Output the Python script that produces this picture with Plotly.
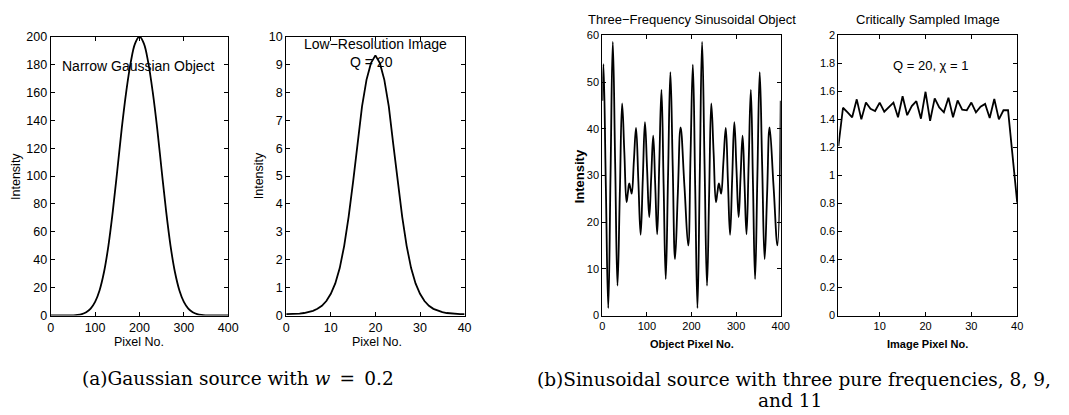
import plotly.graph_objects as go

W, H = 1069, 415

# ---------------- data ----------------
# (a) narrow Gaussian object, read every 10 object pixels
gauss_x = list(range(0, 401, 10))
gauss_y = [0, 0, 0, 0.02, 0.05, 0.15, 0.4, 1.0, 2.4, 5.0, 9.8, 18, 31, 50, 75, 104, 134, 160, 181, 195,
           200, 195, 181, 160, 134, 104, 75, 50, 31, 18, 9.8, 5.0, 2.4, 1.0, 0.4, 0.15, 0.05, 0.02, 0, 0, 0]

# (a) low-resolution image, Q = 20
lowres_x = list(range(0, 41))
lowres_y = [0.05, 0.05, 0.06, 0.07, 0.09, 0.12, 0.17, 0.24, 0.35, 0.52, 0.78, 1.15, 1.7, 2.5, 3.55,
            4.8, 6.15, 7.5, 8.45, 9.05, 9.33, 9.05, 8.45, 7.5, 6.15, 4.8, 3.55, 2.5, 1.7, 1.15, 0.78,
            0.52, 0.35, 0.24, 0.17, 0.12, 0.09, 0.07, 0.06, 0.05, 0.05]

# (b) three-frequency sinusoidal object: extrema and mid-level crossings
sin_x = [0, 2.5, 7.9, 13.3, 18.4, 23.5, 28.8, 34, 39.2, 44.4, 49.4, 54.3, 57.3, 60.3, 63.1, 65.9,
         70.8, 75.6, 80.8, 85.9, 90.8, 95.6, 100.4, 105.2, 109.7, 114.1, 118.6, 123, 127.8, 132.6,
         137.4, 142.2, 147.4, 152.6, 157.8, 163, 169.3, 175.5, 184.1, 192.6, 197.8,
         203, 208.2, 213.3, 218.5, 223.7, 229.2, 234.7, 239.5, 244.3, 249.5, 254.7, 258, 261.3, 263.9,
         266.5, 271.7, 276.8, 281.6, 286.4, 291.2, 296, 300.8, 305.6, 310, 314.5, 318.9, 323.3, 328.2,
         333, 337.8, 342.5, 347.7, 352.9, 358.4, 363.9, 369.5, 375, 383.9, 392.7, 400]
sin_y = [46, 53.8, 27.7, 1.6, 30.1, 58.6, 32.5, 6.4, 25.9, 45.4, 34.9, 24.3, 26.3, 28.3, 27.2, 26.1,
         33.2, 40.2, 28.8, 17.3, 29.4, 41.4, 31.3, 21.1, 29.8, 38.5, 28.0, 17.4, 32.9, 48.3,
         28.1, 7.8, 30.0, 52.1, 32.1, 12.1, 26.2, 40.3, 27.7, 15.0, 34.4,
         53.7, 27.7, 1.6, 30.1, 58.6, 32.5, 6.4, 25.9, 45.4, 34.9, 24.3, 26.3, 28.3, 27.2,
         26.1, 33.2, 40.2, 28.8, 17.3, 29.4, 41.4, 31.3, 21.1, 29.8, 38.5, 28.0, 17.4, 32.9,
         48.3, 28.1, 7.8, 30.0, 52.1, 32.1, 12.1, 26.2, 40.3, 27.7, 15.0, 46]

# (b) critically sampled image
crit_x = list(range(1, 41))
crit_y = [1.21, 1.483, 1.45, 1.415, 1.543, 1.40, 1.52, 1.475, 1.46, 1.52,
          1.455, 1.485, 1.52, 1.415, 1.565, 1.43, 1.495, 1.53, 1.405, 1.597,
          1.39, 1.55, 1.485, 1.45, 1.555, 1.415, 1.535, 1.47, 1.465, 1.52,
          1.45, 1.49, 1.51, 1.41, 1.545, 1.40, 1.465, 1.465, 1.14, 0.805]

# ---------------- styling ----------------
SANS = "Liberation Sans, Arial, Helvetica, sans-serif"
SERIF = "DejaVu Serif, Liberation Serif, serif"


def px(x):
    return x / W


def py(y):
    return 1 - y / H


def axis(domain, rng, fs, **kw):
    d = dict(domain=domain, range=rng, showline=True, linecolor="black", linewidth=1,
             mirror="ticks", ticks="inside", ticklen=4, tickwidth=1, tickcolor="black",
             showgrid=False, zeroline=False,
             tickfont=dict(family=SANS, size=fs, color="black"))
    d.update(kw)
    return d


fig = go.Figure()
line = dict(color="black", width=1.8)
fig.add_trace(go.Scatter(x=gauss_x, y=gauss_y, mode="lines", line=dict(shape="spline", **line),
                         xaxis="x", yaxis="y"))
fig.add_trace(go.Scatter(x=lowres_x, y=lowres_y, mode="lines", line=line, xaxis="x2", yaxis="y2"))
fig.add_trace(go.Scatter(x=sin_x, y=sin_y, mode="lines", line=dict(shape="spline", smoothing=1.2, **line),
                         xaxis="x3", yaxis="y3"))
fig.add_trace(go.Scatter(x=crit_x, y=crit_y, mode="lines", line=line, xaxis="x4", yaxis="y4"))

ya = [py(319.3), py(30.7)]
yb = [py(319.3), py(29.3)]

fig.update_layout(
    width=W, height=H, margin=dict(l=0, r=0, t=0, b=0),
    paper_bgcolor="white", plot_bgcolor="white", showlegend=False,
    xaxis=axis([px(48.3), px(228)], [0, 400], 12.5, dtick=100, anchor="y"),
    yaxis=axis(ya, [0, 200], 12.5, dtick=20, anchor="x"),
    xaxis2=axis([px(286.7), px(467.3)], [0, 40], 12.5, dtick=10, anchor="y2"),
    yaxis2=axis(ya, [0, 10], 12.5, dtick=1, anchor="x2"),
    xaxis3=axis([px(606.7), px(787.3)], [0, 400], 11, dtick=100, anchor="y3"),
    yaxis3=axis(yb, [0, 60], 11, dtick=10, anchor="x3"),
    xaxis4=axis([px(845.7), px(1026.7)], [1, 40], 11, tickvals=[10, 20, 30, 40], anchor="y4"),
    yaxis4=axis(yb, [0, 2], 11, dtick=0.2, anchor="x4"),
)


def note(text, x, y, size, family=SANS, angle=0, bold=False):
    if bold:
        text = "<b>" + text + "</b>"
    fig.add_annotation(text=text, x=px(x), y=py(y), xref="paper", yref="paper",
                       showarrow=False, textangle=angle, xanchor="center", yanchor="middle",
                       font=dict(family=family, size=size, color="black"))


note("Narrow Gaussian Object", 137, 61, 14)
note("Low\u2212Resolution Image", 376.7, 38.3, 14)
note("Q = 20", 373.3, 56.7, 14)
note("Intensity", 13, 175, 12.5, angle=-90)
note("Intensity", 259.3, 175, 12.5, angle=-90)
note("Pixel No.", 138, 347, 12.5)
note("Pixel No.", 379, 347, 12.5)

note("Three\u2212Frequency Sinusoidal Object", 697.5, 13.3, 13)
note("Critically Sampled Image", 936, 13.3, 13)
note("Intensity", 583.3, 175, 13, angle=-90, bold=True)
note("Object Pixel No.", 697, 349, 11, bold=True)
note("Image Pixel No.", 936, 349, 11, bold=True)
note("Q = 20, \u03c7 = 1", 939, 61, 13)

note("(a)Gaussian source with <i>w</i>\u2002=\u20020.2", 238, 384, 18.5, SERIF)
note("(b)Sinusoidal source with three pure frequencies, 8, 9,", 801, 386, 18.5, SERIF)
note("and 11", 797, 407, 18.5, SERIF)

fig.write_html("out.html")
